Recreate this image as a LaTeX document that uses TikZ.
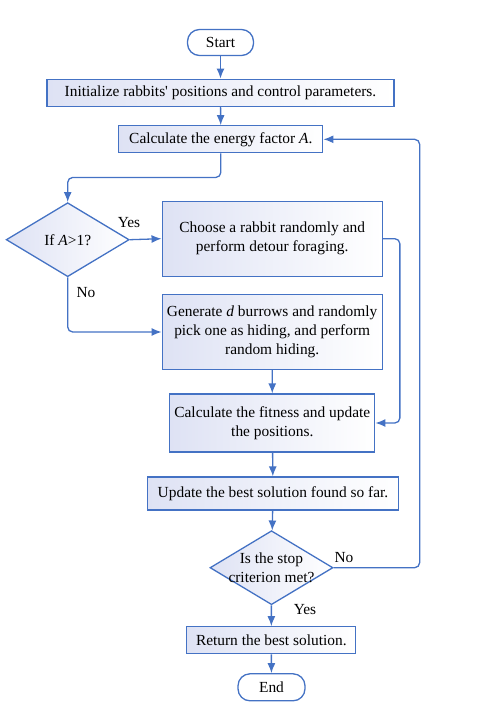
\documentclass[tikz,border=0pt]{standalone}
\usepackage{fontspec}
\setmainfont{Liberation Serif}
\usetikzlibrary{arrows.meta,shapes.geometric,positioning,calc}
\definecolor{flowblue}{RGB}{68,114,196}
\definecolor{boxfill}{RGB}{222,226,244}

\begin{document}
\begin{tikzpicture}[x=1pt, y=-1pt,
    proc/.style={draw=flowblue, line width=1.3pt, left color=boxfill, right color=white, minimum height=27pt, align=center, inner sep=1pt, font=\fontsize{15.4}{19}\selectfont},
    term/.style={draw=flowblue, line width=1.3pt, fill=white, rounded corners=12pt, minimum width=66pt, minimum height=26pt, font=\fontsize{15.4}{19}\selectfont},
    decision/.style={draw=flowblue, line width=1.3pt, diamond, left color=boxfill, right color=white, minimum width=123pt, minimum height=74pt, inner sep=0pt},
    txt/.style={align=center, inner sep=0pt, font=\fontsize{15.4}{19}\selectfont},
    arr/.style={-{Latex[length=10pt,width=8pt]}, draw=flowblue, line width=1.3pt, rounded corners=5pt}
]
\useasboundingbox (0,0) rectangle (498,712);

\node[term] (start) at (220.5,42.5) {Start};
\node[proc, minimum width=347pt] (init) at (220.5,92.7) {Initialize rabbits\textquotesingle\ positions and control parameters.};
\node[proc, minimum width=204pt] (energy) at (220.8,139.3) {Calculate the energy factor \textit{A}.};
\node[decision] (ifA) at (67.7,239.7) {};
\node[txt] (ifAtxt) at (ifA) {If \textit{A}>1?};
\node[proc, minimum width=220pt, minimum height=75pt] (choose) at (272.2,238.7) {Choose a rabbit randomly and\\perform detour foraging.};
\node[proc, minimum width=220pt, minimum height=75pt] (hide) at (272.2,332) {Generate \textit{d} burrows and randomly\\pick one as hiding, and perform\\random hiding.};
\node[proc, minimum width=205pt, minimum height=58pt] (fitness) at (272.3,423) {Calculate the fitness and update\\the positions.};
\node[proc, minimum width=251pt, minimum height=33pt] (best) at (273,493.5) {Update the best solution found so far.};
\node[decision] (stop) at (271.5,567.7) {};
\node[txt] (stoptxt) at (stop) {Is the stop\\criterion met?};
\node[proc, minimum width=169pt] (ret) at (271.3,640.3) {Return the best solution.};
\node[term, minimum width=67pt, minimum height=27pt] (end) at (271.5,687.3) {End};

\node[txt] (yes1) at (129,223) {Yes};
\node[txt] (no1) at (86,293) {No};
\node[txt] (no2) at (344,557.7) {No};
\node[txt] (yes2) at (305,610) {Yes};

\draw[arr] (start) -- (init);
\draw[arr] (init) -- (energy);
\draw[arr] (energy.south) -- ++(0,24) -| (ifA.north);
\draw[arr] (ifA.east) -- (choose.west);
\draw[arr] (ifA.south) |- (hide.west);
\draw[arr] (choose.east) -- ++(17,0) |- (fitness.east);
\draw[arr] (hide) -- (fitness);
\draw[arr] (fitness) -- (best);
\draw[arr] (best) -- (stop);
\draw[arr] (stop.east) -- ++(86,0) |- (energy.east);
\draw[arr] (stop) -- (ret);
\draw[arr] (ret) -- (end);
\end{tikzpicture}
\end{document}
